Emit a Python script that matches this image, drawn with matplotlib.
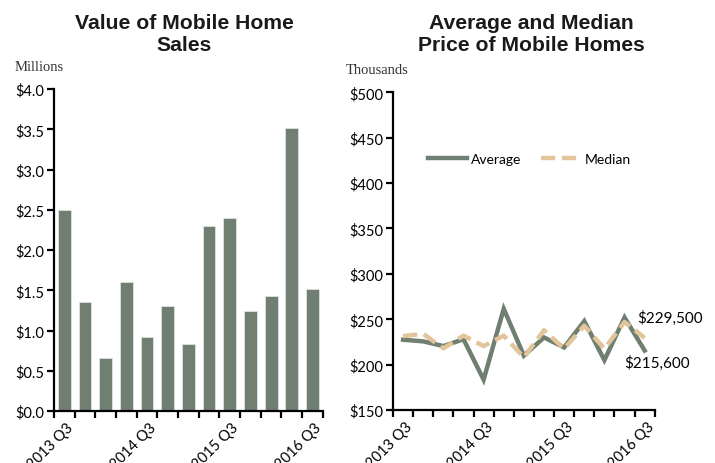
import matplotlib
matplotlib.use("Agg")
import matplotlib.pyplot as plt
import matplotlib.transforms as mtransforms
import numpy as np

# quarters 2013 Q3 .. 2016 Q3
quarters = ["2013 Q3", "2013 Q4", "2014 Q1", "2014 Q2", "2014 Q3", "2014 Q4",
            "2015 Q1", "2015 Q2", "2015 Q3", "2015 Q4", "2016 Q1", "2016 Q2", "2016 Q3"]
shown_labels = ["2013 Q3", "2014 Q3", "2015 Q3", "2016 Q3"]

# value of sales, millions of dollars
sales_value = [2.50, 1.35, 0.66, 1.60, 0.92, 1.30, 0.83, 2.30, 2.40, 1.24, 1.43, 3.52, 1.51]

# prices, thousands of dollars
avg_price = [227.5, 225.7, 220.5, 228.0, 183.5, 261.5, 210.0, 230.0, 219.0, 248.0, 205.0, 252.0, 215.6]
med_price = [231.5, 234.0, 218.0, 232.0, 220.5, 232.0, 208.0, 238.0, 217.6, 243.0, 217.6, 247.0, 229.5]

bar_color = "#717f73"
avg_color = "#6f7f71"
med_color = "#e2c59b"
tick_font = ["Lato", "DejaVu Sans"]
title_font = ["Liberation Sans", "DejaVu Sans"]
unit_font = ["Liberation Serif", "DejaVu Serif"]

fig = plt.figure(figsize=(7.15, 4.64), dpi=100)
fig.patch.set_facecolor("white")


def style_axis(ax, n):
    for side in ["top", "right"]:
        ax.spines[side].set_visible(False)
    for side in ["left", "bottom"]:
        ax.spines[side].set_linewidth(1.6)
        ax.spines[side].set_color("black")
    ax.set_xlim(0, n)
    ax.set_xticks(np.arange(n + 1))
    labels = ["" for _ in range(n + 1)]
    for lab in shown_labels:
        labels[quarters.index(lab)] = lab
    ax.set_xticklabels(labels, rotation=45, ha="right", va="top",
                       family=tick_font, fontsize=10.5)
    ax.tick_params(axis="x", length=5, width=1.6, direction="out", pad=1.5)
    ax.tick_params(axis="y", length=5, width=1.6, direction="out", pad=2,
                   labelsize=10.5)
    for t in ax.get_yticklabels():
        t.set_family(tick_font)
    # shift rotated labels so their end sits right of the tick, like Excel
    shift = mtransforms.ScaledTranslation(0.22, 0, fig.dpi_scale_trans)
    for t in ax.get_xticklabels():
        t.set_transform(t.get_transform() + shift)


# ---- left: value of sales
ax1 = fig.add_axes([0.0755, 0.112, 0.376, 0.694])
x = np.arange(len(quarters)) + 0.5
ax1.bar(x, sales_value, width=0.62, color=bar_color, edgecolor="#dfe3df",
        linewidth=0.6)
ax1.set_ylim(0, 4.0)
ax1.set_yticks(np.arange(0, 4.01, 0.5))
ax1.set_yticklabels(["${:.1f}".format(v) for v in np.arange(0, 4.01, 0.5)])
style_axis(ax1, len(quarters))
fig.text(0.258, 0.926, "Value of Mobile Home\nSales", ha="center", va="center",
         fontsize=15.2, fontweight="bold", family=title_font, linespacing=1.18,
         color="#1a1a1a")
fig.text(0.021, 0.855, "Millions", fontsize=10.5, family=unit_font,
         color="#333333", va="center")

# ---- right: average and median price
ax2 = fig.add_axes([0.5497, 0.114, 0.366, 0.685])
ax2.plot(x, avg_price, color=avg_color, linewidth=3.2, label="Average",
         solid_joinstyle="miter")
ax2.plot(x, med_price, color=med_color, linewidth=3.2, label="Median",
         dashes=(3.2, 1.5))
ax2.set_ylim(150, 500)
ax2.set_yticks(np.arange(150, 501, 50))
ax2.set_yticklabels(["${:d}".format(v) for v in range(150, 501, 50)])
style_axis(ax2, len(quarters))
ax2.legend(loc="center", bbox_to_anchor=(0.52, 0.79), ncol=2, frameon=False,
           handlelength=2.8, handletextpad=0.3, columnspacing=1.45,
           prop={"family": tick_font, "size": 10})
ax2.annotate("${:,.0f}".format(med_price[-1] * 1000), xy=(x[-1], med_price[-1]),
             xytext=(-5, 14.5), textcoords="offset points", fontsize=11,
             family=tick_font, ha="left", va="center")
ax2.annotate("${:,.0f}".format(avg_price[-1] * 1000), xy=(x[-1], avg_price[-1]),
             xytext=(-15, -8.5), textcoords="offset points", fontsize=11,
             family=tick_font, ha="left", va="center")
fig.text(0.743, 0.926, "Average and Median\nPrice of Mobile Homes", ha="center",
         va="center", fontsize=15.2, fontweight="bold", family=title_font,
         linespacing=1.18, color="#1a1a1a")
fig.text(0.484, 0.849, "Thousands", fontsize=10.5, family=unit_font,
         color="#333333", va="center")

fig.savefig("out.png", dpi=100)
